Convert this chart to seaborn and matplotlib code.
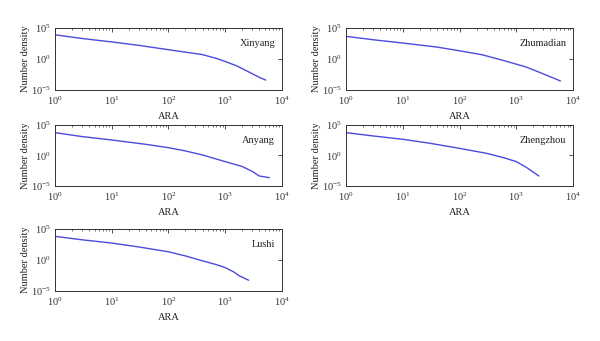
import numpy as np
import pandas as pd
import matplotlib
matplotlib.use("Agg")
import matplotlib.pyplot as plt
import seaborn as sns
from matplotlib.ticker import LogLocator, NullLocator, NullFormatter

sns.set_theme(style="white")
plt.rcParams['font.family'] = ['Liberation Serif', 'DejaVu Serif']
plt.rcParams['mathtext.fontset'] = 'stix'

# ARA (x) and log10 number density (y) for each city
xinyang_ara = [1, 3, 10, 30, 50, 100, 200, 400, 700, 1000, 1600, 2500, 4000, 5200]
xinyang_logd = [3.9, 3.3, 2.75, 2.2, 1.9, 1.5, 1.1, 0.7, 0.1, -0.4, -1.1, -2.0, -2.95, -3.4]

zhumadian_ara = [1, 3, 10, 40, 100, 250, 600, 1500, 3000, 6000]
zhumadian_logd = [3.65, 3.1, 2.57, 1.92, 1.32, 0.68, -0.25, -1.3, -2.4, -3.54]

anyang_ara = [1, 3, 10, 40, 100, 200, 400, 1000, 2000, 3000, 4000, 6000]
anyang_logd = [3.74, 3.1, 2.54, 1.83, 1.28, 0.75, 0.08, -1.0, -1.8, -2.6, -3.36, -3.63]

zhengzhou_ara = [1, 3, 10, 30, 100, 300, 600, 1000, 1500, 2500]
zhengzhou_logd = [3.74, 3.2, 2.65, 2.0, 1.17, 0.35, -0.36, -1.0, -1.94, -3.36]

lushi_ara = [1, 3, 10, 30, 100, 200, 400, 700, 1000, 1400, 1800, 2600]
lushi_logd = [3.81, 3.25, 2.73, 2.1, 1.32, 0.65, -0.14, -0.75, -1.22, -1.9, -2.57, -3.27]

panels = [
    ("Xinyang", xinyang_ara, xinyang_logd),
    ("Zhumadian", zhumadian_ara, zhumadian_logd),
    ("Anyang", anyang_ara, anyang_logd),
    ("Zhengzhou", zhengzhou_ara, zhengzhou_logd),
    ("Lushi", lushi_ara, lushi_logd),
]

# axes rectangles in figure fractions: left, bottom, width, height
rects = [
    (0.0917, 0.736, 0.378, 0.182),
    (0.577, 0.736, 0.378, 0.182),
    (0.0917, 0.4545, 0.378, 0.179),
    (0.577, 0.4545, 0.378, 0.179),
    (0.0917, 0.1466, 0.378, 0.182),
]

fig = plt.figure(figsize=(6.0, 3.41), dpi=100)
fs = 7.5
line_color = "#4b4bdc"

for (name, ara, logd), rect in zip(panels, rects):
    ax = fig.add_axes(rect)
    df = pd.DataFrame({"ARA": ara, "density": np.power(10.0, logd)})
    sns.lineplot(data=df, x="ARA", y="density", ax=ax, color=line_color,
                 linewidth=1.0, estimator=None, sort=False)
    ax.set_xscale("log")
    ax.set_yscale("log")
    ax.set_xlim(1, 1e4)
    ax.set_ylim(1e-5, 1e5)
    ax.set_xticks([1, 10, 100, 1000, 10000])
    ax.xaxis.set_minor_locator(LogLocator(base=10, subs=np.arange(2, 10)))
    ax.xaxis.set_minor_formatter(NullFormatter())
    ax.set_yticks([1e-5, 1, 1e5])
    ax.yaxis.set_minor_locator(NullLocator())
    ax.tick_params(which="both", direction="in", top=True, right=True,
                   labelsize=fs, colors="#333333", pad=3)
    ax.tick_params(which="major", length=3, width=0.6)
    ax.tick_params(which="minor", length=1.6, width=0.5)
    for s in ax.spines.values():
        s.set_visible(True)
        s.set_color("#333333")
        s.set_linewidth(0.7)
    ax.set_xlabel("ARA", fontsize=fs, labelpad=4, color="#222222")
    ax.set_ylabel("Number density", fontsize=fs, labelpad=1, color="#222222")
    ax.text(0.97, 0.75, name, transform=ax.transAxes, ha="right", va="center",
            fontsize=fs, color="#222222")

fig.savefig("out.png", dpi=100)
